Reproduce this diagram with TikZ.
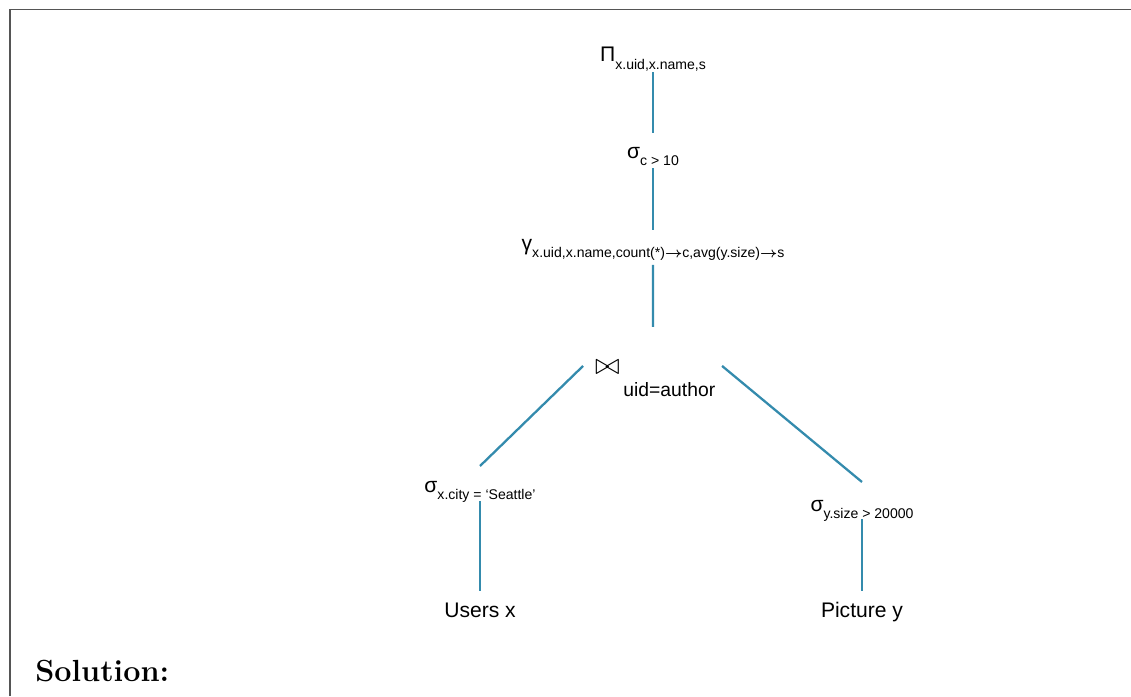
\documentclass[tikz,border=0pt]{standalone}
\usepackage{fontspec}
\newfontfamily\arial{Liberation Sans}
\usepackage{tikz}
\usepackage{xcolor}

\definecolor{linkblue}{RGB}{52,139,173}
\definecolor{boxgray}{RGB}{85,85,85}

% subscript of an operator
\newcommand{\lowsub}[1]{\raisebox{-4pt}{\fontsize{8}{9.6}\selectfont #1}}
\newcommand{\into}{{\boldmath$\rightarrow$}}

\tikzset{
  op/.style={anchor=base, inner sep=0pt, font=\arial\fontsize{12}{14.4}\selectfont},
  link/.style={linkblue, line width=1.3pt},
  boxline/.style={boxgray, line width=0.9pt},
}

\begin{document}
\begin{tikzpicture}[x=0.02cm, y=-0.02cm]
\useasboundingbox (0,0) rectangle (1131,696);

% frame
\draw[boxline] (10,696) -- (10,9.5) -- (1131,9.5);

%%%%%%%%%%%%  Plan %%%%%%%%%%%%%
% operators
{
\node[op] (pi) at (653,62) {Π\lowsub{x.uid,x.name,s}};
\node[op] (selc) at (653,158) {σ\lowsub{c > 10}};
\node[op] (gamma) at (653,250) {γ\lowsub{x.uid,x.name,count(*)\into c,avg(y.size)\into s}};

\node[inner sep=0pt, font=\fontsize{18}{20}\selectfont] (join) at (607.5,367) {$\bowtie$};
\node[anchor=base west, inner sep=0pt, font=\arial\fontsize{11}{13}\selectfont] (joinlbl) at (623,396) {uid=author};

\node[op] (selcity) at (480,492) {σ\lowsub{x.city = ‘Seattle’}};
\node[op] (selsize) at (862,511) {σ\lowsub{y.size > 20000}};
}
% relations
{
\node[op] (users) at (480,617) {Users x};
\node[op] (picture) at (862,617) {Picture y};
}
% edges
{
\draw[link] ([yshift=-5.7pt]pi.base) -- ([yshift=14.2pt]selc.base);
\draw[link] ([yshift=-5.7pt]selc.base) -- ([yshift=11.4pt]gamma.base);
\draw[link] ([yshift=-8.5pt]gamma.base) -- ([shift={(25.9pt,22.8pt)}]join.center);

\draw[link] ([shift={(-13.9pt,0.6pt)}]join.center) -- ([yshift=14.8pt]selcity.base);
\draw[link] ([shift={(65.2pt,0.6pt)}]join.center) -- ([yshift=16.5pt]selsize.base);

\draw[link] ([yshift=-5.1pt]selcity.base) -- ([yshift=14.8pt]users.base);
\draw[link] ([yshift=-4.6pt]selsize.base) -- ([yshift=14.8pt]picture.base);
}

\node[anchor=base west, inner sep=0pt, font=\bfseries\fontsize{17.4}{20}\selectfont] (sol) at (35,681) {Solution:};

\end{tikzpicture}
\end{document}
